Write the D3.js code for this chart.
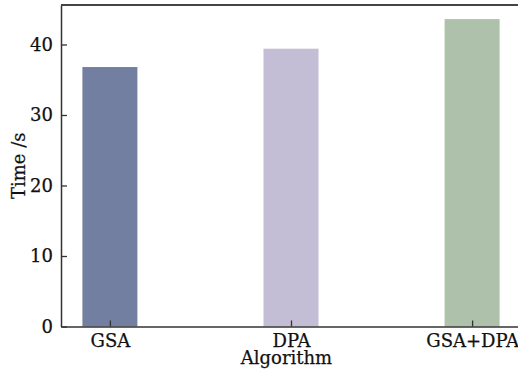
<!DOCTYPE html>
<html>
<head>
<meta charset="utf-8">
<script src="https://cdn.jsdelivr.net/npm/d3@7"></script>
<style>
  html, body { margin: 0; padding: 0; background: #fff; }
  svg { display: block; }
  text { font-family: "DejaVu Serif", "Liberation Serif", serif; fill: #111; stroke: #111; stroke-width: 0.25px; }
</style>
</head>
<body>
<svg id="chart" width="518" height="380"></svg>
<script>
// Run time per algorithm
const algorithms = ["GSA", "DPA", "GSA+DPA"];
const times = [36.8, 39.4, 43.6];
const barColors = ["#737fa0", "#c3bdd5", "#aec2ab"];
const yTicks = [0, 10, 20, 30, 40];

const svg = d3.select("#chart");
const plotLeft = 61, plotRight = 521, plotTop = 5, plotBottom = 326.5;
const fontSize = 18;

const x = d3.scalePoint().domain(algorithms).range([plotLeft, plotRight]).padding(0.27);
const y = d3.scaleLinear().domain([0, 45.6]).range([plotBottom, plotTop]);
const barWidth = 55;

// bars
svg.append("g").selectAll("rect")
  .data(algorithms)
  .join("rect")
  .attr("x", d => x(d) - barWidth / 2)
  .attr("width", barWidth)
  .attr("y", (d, i) => y(times[i]))
  .attr("height", (d, i) => y(0) - y(times[i]))
  .attr("fill", (d, i) => barColors[i]);

// frame: top border
svg.append("line")
  .attr("x1", plotLeft).attr("x2", plotRight)
  .attr("y1", plotTop).attr("y2", plotTop)
  .attr("stroke", "#444").attr("stroke-width", 2);

// y axis with inward ticks
const yAxis = svg.append("g")
  .attr("transform", `translate(${plotLeft},0)`)
  .call(d3.axisLeft(y).tickValues(yTicks).tickSize(-6).tickPadding(8).tickSizeOuter(0));
yAxis.select(".domain").attr("stroke", "#333").attr("stroke-width", 1.5);
yAxis.selectAll(".tick line").attr("stroke", "#333").attr("stroke-width", 1.3);
yAxis.selectAll("text").attr("font-size", fontSize).attr("font-family", "DejaVu Serif").attr("fill", "#111");

// x axis with inward ticks
const xAxis = svg.append("g")
  .attr("transform", `translate(0,${plotBottom})`)
  .call(d3.axisBottom(x).tickSize(-6).tickPadding(8).tickSizeOuter(0));
xAxis.select(".domain").attr("stroke", "#333").attr("stroke-width", 1.5);
xAxis.selectAll(".tick line").attr("stroke", "#333").attr("stroke-width", 1.3);
xAxis.selectAll("text").attr("font-size", fontSize).attr("font-family", "DejaVu Serif").attr("fill", "#111");

// axis titles
svg.append("text")
  .attr("x", (plotLeft + 512) / 2).attr("y", 364)
  .attr("text-anchor", "middle")
  .attr("font-size", fontSize)
  .text("Algorithm");

svg.append("text")
  .attr("transform", `translate(25,${(plotTop + plotBottom) / 2}) rotate(-90)`)
  .attr("text-anchor", "middle")
  .attr("font-size", fontSize)
  .text("Time /s");
</script>
</body>
</html>
